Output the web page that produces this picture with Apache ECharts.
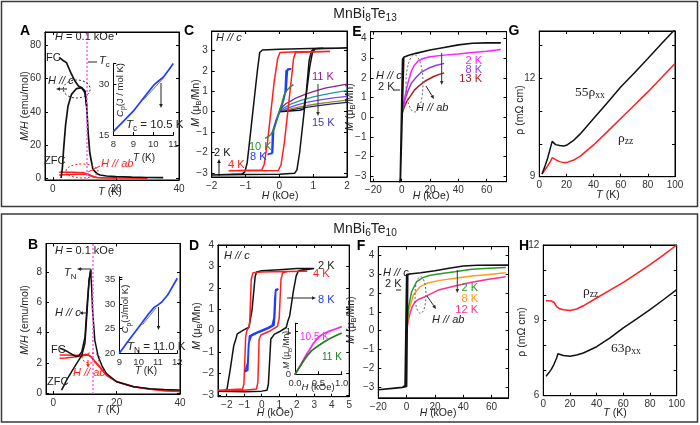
<!DOCTYPE html>
<html><head><meta charset="utf-8">
<script src="https://cdn.jsdelivr.net/npm/echarts@6/dist/echarts.min.js"></script>
<style>html,body{margin:0;padding:0;background:#fff}#c{width:700px;height:425px}</style>
</head><body><div id="c"></div>
<script>
// ================= DATA =================
// Panel A: MnBi8Te13 M/H vs T (H = 0.1 kOe)
const aFC = [[2,72.8],[3,71.2],[4.3,69.6],[5,66.5],[5.9,62.6],[7,58.5],[8.1,55.5],[9.1,54.5],[10.2,52.5],[10.7,43.5],[11.2,27],[11.7,15.4],[12.7,5.4],[14,2.8],[15,2],[17,1.4],[20,1],[25,0.7],[30,0.5],[35,0.4]];
const aZFC = [[2.6,0.2],[3,6],[3.4,17.4],[4,31.5],[4.8,43.5],[5.9,50.5],[7.5,54],[9.1,54.5],[10.2,51.5],[10.7,43.5]];
const aAbFC = [[2,3.6],[4,3.7],[6,3.6],[8,3.5],[10,3.3],[11,2.7],[12,1.7],[13,0.9],[14,0.5],[16,0.3],[20,0.2],[30,0.1]];
const aAbZFC = [[2,2.0],[4,2.2],[6,2.3],[8,2.4],[10,2.5],[11,2.3],[12,1.5],[13,0.8],[14,0.45],[16,0.3],[20,0.2]];
const aTc = 10.8;
const aCp = [[8,16],[8.5,19],[9,22],[9.5,25.8],[10,29.5],[10.2,30.6],[10.5,32],[10.75,34],[11,36]];
const aCpFit = [[9.5,25.3],[10.5,31.7]];
// Panel B: MnBi6Te10 M/H vs T
const bFC = [[2.1,2.96],[3,2.9],[4,2.8],[5,2.68],[6,2.56],[7.2,2.42],[8,2.45],[9,2.74],[10,3.7],[10.7,5.9],[11.3,7.5],[11.8,8.1],[12.1,7.0],[12.4,5.5],[13.1,3.5],[14.2,2.4],[15.5,1.75],[16.8,1.3],[20,0.76],[25.3,0.43],[30.5,0.3],[35,0.25],[40,0.22]];
const bZFC = [[2.6,0.2],[3.5,0.55],[4.2,0.87],[5.8,1.42],[7.4,1.97],[9,2.5],[10,3.3],[10.7,5.5],[11.3,7.4],[11.8,8.1]];
const bAbFC = [[2,2.52],[4,2.52],[6,2.5],[8,2.5],[10,2.55],[11,2.55],[12,2.4],[13,2.15],[14.7,1.75],[16.8,1.2],[20,0.77],[25.3,0.44],[30.5,0.28],[35,0.18],[40,0.12]];
const bAbZFC = [[2,2.3],[4,2.33],[6,2.38],[8,2.42],[10,2.5],[11,2.52],[12,2.38],[13,2.1],[14.7,1.7],[16.8,1.18],[20,0.75],[25.3,0.43],[30.5,0.27],[35,0.17],[40,0.11]];
const bTN = 12.5;
const bCp = [[9,20],[9.5,22.7],[10,25.3],[10.5,27.9],[10.8,29.3],[11,29.8],[11.2,30.4],[11.5,31.8],[12,35.2]];
const bCpFit = [[10.2,25.8],[10.9,29.2]];
// Panel C: MnBi8Te13 M(H), H // c, low field
const cT2 = [[2,3.12],[1.2,3.1],[0,3.06],[-0.5,3.02],[-0.58,2.9],[-0.65,2.0],[-0.75,0.5],[-0.85,-1.0],[-0.95,-2.5],[-1.02,-2.95],[-1.1,-3.05],[-2,-3.1],[-1,-3.08],[0,-3.06],[0.45,-3.02],[0.52,-2.85],[0.6,-2.0],[0.7,-0.5],[0.8,1.0],[0.88,2.5],[0.95,2.98],[1.05,3.08],[2,3.12]];
const cT2v = [[0,0],[0.3,0.03],[0.6,0.07],[0.72,0.12],[0.8,0.9],[0.9,2.2],[0.98,2.9],[1.06,3.08],[1.3,3.11]];
const cT4 = [[1.5,2.95],[0.5,2.93],[0.02,2.9],[-0.05,2.6],[-0.15,1.5],[-0.25,0],[-0.35,-1.5],[-0.45,-2.6],[-0.52,-2.86],[-1.5,-2.9],[-0.5,-2.9],[-0.03,-2.88],[0.05,-2.6],[0.15,-1.5],[0.25,0],[0.35,1.5],[0.42,2.6],[0.48,2.9],[1.5,2.95]];
const cT8 = [[-0.35,-2.1],[-0.22,-2.05],[-0.2,-1.0],[-0.1,-0.45],[0,0],[0.1,0.45],[0.17,0.9],[0.2,2.0],[0.22,2.08],[0.35,2.1],[0.24,2.08],[0.2,1.1],[0.12,0.55],[0.02,0.05],[-0.08,-0.4],[-0.17,-0.85],[-0.2,-2.02],[-0.35,-2.1]];
const cT10 = [[-0.42,-1.3],[-0.35,-1.25],[-0.25,-1.12],[-0.15,-0.85],[-0.08,-0.45],[0,0],[0.08,0.45],[0.15,0.85],[0.25,1.1],[0.35,1.25],[0.42,1.32]];
const cT11 = [[0,0],[0.1,0.25],[0.2,0.4],[0.37,0.55],[0.5,0.68],[0.76,0.85],[1,0.98],[1.35,1.15],[1.75,1.28],[2,1.35]];
const cT12 = [[0,0],[0.15,0.2],[0.35,0.38],[0.66,0.57],[1,0.72],[1.35,0.85],[1.75,0.97],[2,1.03]];
const cT13 = [[0,0],[0.2,0.15],[0.5,0.32],[0.8,0.45],[1.2,0.58],[1.6,0.68],[2,0.75]];
const cT14 = [[0,0],[0.3,0.12],[0.6,0.23],[1,0.35],[1.5,0.47],[2,0.56]];
const cT15 = [[0,0],[0.3,0.08],[0.6,0.16],[1,0.26],[1.5,0.37],[2,0.45]];
// Panel D: MnBi6Te10 M(H), H // c
const dT2 = [[3,2.9],[2,2.9],[1,2.85],[0,2.8],[-0.3,2.74],[-0.38,2.5],[-0.55,1.0],[-0.73,0.16],[-1.0,0.05],[-1.4,-0.15],[-1.5,-0.45],[-1.6,-0.7],[-1.8,-1.8],[-1.98,-2.7],[-2.1,-2.8],[-2.5,-2.83],[-1,-2.85],[0,-2.82],[0.3,-2.78],[0.38,-2.5],[0.52,-0.39],[0.73,-0.16],[1.0,-0.05],[1.4,0.15],[1.5,0.47],[1.6,0.7],[1.8,1.8],[1.97,2.56],[2.1,2.8],[3,2.9]];
const dT4 = [[2.6,2.78],[1.2,2.76],[0,2.74],[-0.5,2.7],[-0.6,2.4],[-0.68,0.5],[-0.72,0.2],[-0.85,0.0],[-0.92,-0.3],[-0.97,-1.5],[-1.02,-2.5],[-1.1,-2.72],[-2.5,-2.78],[-1,-2.78],[-0.3,-2.72],[-0.22,-2.4],[-0.15,-0.4],[-0.05,-0.2],[0.5,0.0],[0.9,0.2],[1.0,0.6],[1.1,2.4],[1.2,2.7],[1.5,2.76],[2.6,2.78]];
const dT8 = [[0.95,1.95],[0.8,1.92],[0.75,1.5],[0.7,0.6],[0.6,0.25],[0.3,0.12],[0,0.02],[-0.4,-0.12],[-0.7,-0.25],[-0.75,-0.8],[-0.8,-1.85],[-0.95,-1.92],[-0.85,-1.9],[-0.8,-1.5],[-0.75,-0.6],[-0.6,-0.25],[-0.3,-0.12],[0,-0.02],[0.4,0.12],[0.7,0.25],[0.75,0.8],[0.8,1.85],[0.95,1.95]];
const dIn105 = [[0,0],[0.1,0.18],[0.2,0.38],[0.25,0.48],[0.3,0.56],[0.39,0.72],[0.5,0.87],[0.62,0.96],[0.75,1.02],[0.88,1.07],[1,1.12]];
const dIn11 = [[0,0],[0.1,0.17],[0.2,0.34],[0.25,0.42],[0.35,0.55],[0.5,0.67],[0.62,0.76],[0.75,0.84],[0.88,0.91],[1,0.97]];
// Panel E: MnBi8Te13 M(H) high field
const eC2 = [[70,3.78],[60,3.78],[50,3.76],[40,3.68],[30,3.55],[20,3.42],[10,3.25],[5,3.15],[1.5,3.05],[0.3,3.0],[-0.8,-3.05],[-1.5,-3.4],[-1.0,-3.1],[0.6,2.95],[1.5,3.05]];
const eAb2 = [[0,0.2],[1,0.6],[2,0.95],[3.5,1.47],[5,1.9],[7,2.38],[9,2.65],[11.8,2.87],[15,2.99],[20,3.08],[30,3.16],[40,3.22],[50,3.29],[60,3.36],[70,3.44]];
const eAb8 = [[0,0.15],[1,0.5],[2,0.8],[3,1.05],[4.7,1.39],[7,1.75],[10.6,2.06],[14,2.3],[18.8,2.49],[24,2.63],[30,2.74]];
const eAb13 = [[0,0.1],[1,0.35],[2,0.55],[3.5,0.8],[5.9,1.05],[9,1.38],[12.9,1.64],[17,1.86],[22.3,2.06],[26,2.17],[30,2.26]];
// Panel F: MnBi6Te10 M(H) high field
const fC2 = [[72,3.47],[50,3.46],[40,3.42],[30,3.3],[20,3.17],[10,3.07],[2,3.0],[0,2.97],[-0.8,2.93],[-1.1,-2.9],[-3,-3.0],[-10,-3.05],[-20,-3.12],[-10,-3.06],[-3,-3.0],[0,-2.95],[0.5,-2.9],[0.8,2.95],[2,3.0]];
const fAb2 = [[0,0.05],[1.2,1.18],[3.5,2.06],[7.1,2.6],[11.8,2.82],[16,2.92],[22.4,3.0],[34,3.12],[46,3.25],[58,3.31],[70,3.35]];
const fAb8 = [[0,0.05],[1.7,1.1],[4.7,1.89],[9.4,2.33],[15,2.52],[22.4,2.65],[34,2.77],[46,2.89],[58,2.98],[70,3.07]];
const fAb12 = [[0,0],[1,0.45],[2.4,0.92],[4,1.28],[5.9,1.53],[9,1.68],[13,1.8],[22.4,2.15],[34,2.36],[46,2.56],[58,2.72],[70,2.86]];
// Panel G: MnBi8Te13 resistivity
const gRxx55 = [[2,9.08],[4,9.3],[6,9.55],[8,9.85],[9.5,10.08],[10.5,10.05],[12,9.98],[15,9.95],[18,9.94],[20,9.96],[25,10.1],[30,10.3],[40,10.78],[50,11.25],[60,11.74],[70,12.17],[80,12.61],[90,13.06],[100,13.5]];
const gRzz = [[2,9.08],[4,9.2],[6,9.32],[8,9.45],[9.5,9.58],[10.5,9.6],[12,9.52],[15,9.46],[18,9.43],[20,9.43],[25,9.5],[30,9.62],[40,9.97],[50,10.37],[60,10.78],[70,11.18],[80,11.59],[90,12.02],[100,12.46]];
// Panel H: MnBi6Te10 resistivity
const hRzz = [[2,9.78],[4,9.78],[6,9.77],[8,9.72],[9,9.68],[10,9.55],[12,9.47],[15,9.42],[20,9.39],[25,9.45],[30,9.58],[40,9.89],[50,10.2],[60,10.51],[70,10.86],[80,11.22],[90,11.6],[100,12.0]];
const hRxx63 = [[2,6.77],[4,6.9],[6,7.05],[8,7.25],[10,7.5],[11,7.67],[12,7.64],[15,7.6],[20,7.57],[25,7.62],[30,7.7],[40,7.95],[50,8.3],[60,8.7],[70,9.06],[80,9.43],[90,9.82],[100,10.22]];

// ================= BUILD =================
const F = '"Liberation Sans", Arial, Helvetica, sans-serif';
const FSR = '"Liberation Serif", "Times New Roman", serif';
const BLK='#111', RED='#ff1f1f', BLUE='#1f3cff', GRN='#2f8f2f', PUR='#8e1f8e', TEAL='#1f9a9a', VIO='#7b47ff', OLIVE='#8f8f1f', NAVY='#202080', MAG='#ff1fff', EVIO='#8a3cf0', DRED='#a41f1f', FGRN='#2a9a2a', ORNG='#ff9a20', PINK='#ff2f8f', DGRN='#1f7f1f';

const grids=[], xAxes=[], yAxes=[], series=[];
function lab(v,st,dec,only){
  const k=v/st; if(Math.abs(k-Math.round(k))>1e-6) return '';
  if(only && !only.some(o=>Math.abs(o-v)<1e-6)) return '';
  const r=Math.round(k)*st;
  let s = dec? r.toFixed(dec) : String(Math.round(r));
  return s.replace('-', '\u2212');
}
function mkAx(gi,r,pos,show,fs,dec,only){
  const mn=r[0], mx=r[1], st=r[2];
  return {type:'value', gridIndex:gi, position:pos, min:mn, max:mx, minInterval:st, maxInterval:st,
    axisLine:{show:true,onZero:false,lineStyle:{color:'#000',width:1}},
    axisTick:{show:true,inside:true,length:3,lineStyle:{color:'#000',width:1}},
    splitLine:{show:false},
    axisLabel:{show:show, fontSize:fs, color:'#333', fontFamily:F, margin:4, formatter:(v)=>lab(v,st,dec,only)}};
}
function panel(box,xr,yr,o){
  o=o||{};
  const gi=grids.length;
  grids.push({left:box[0], top:box[1], width:box[2], height:box[3], show:!o.inset, borderColor:'#000', borderWidth:1, backgroundColor:'transparent', containLabel:false});
  const xi=xAxes.length, yi=yAxes.length;
  const fs=o.inset?9.5:10;
  xAxes.push(mkAx(gi,xr,'bottom',true,fs,o.xdec,o.xonly));
  yAxes.push(mkAx(gi,yr,'left',true,fs,o.ydec,o.yonly));
  if(!o.inset){ xAxes.push(mkAx(gi,xr,'top',false,fs)); yAxes.push(mkAx(gi,yr,'right',false,fs)); }
  return {xi, yi};
}
function L(ax,data,color,w,extra){
  series.push(Object.assign({type:'line', xAxisIndex:ax.xi, yAxisIndex:ax.yi, data, showSymbol:false, symbol:'none',
    lineStyle:{color, width:w||1.5}, itemStyle:{color}, silent:true, animation:false}, extra||{}));
}
function vline(x){ return {markLine:{silent:true, symbol:['none','none'], label:{show:false}, lineStyle:{color:'#ff5cff', type:[2,2], width:1.5}, data:[{xAxis:x}], animation:false}}; }

const pA = panel([45,32,134,148],[-2.5,40,20],[-1,88,20]);
const pAi = panel([113.3,63.6,60,71.4],[8,11,1],[15,36,15],{inset:true});
const pB = panel([46,243.5,134,150.5],[-2.3,40,20],[-0.05,9.87,2]);
const pBi = panel([119.3,276.8,58,76.5],[9,12,1],[20,35.5,5],{inset:true});
const pC = panel([211.7,31,135.3,146],[-2,2,1],[-3.2,3.95,1]);
const pD = panel([218,245,131.2,151.7],[-2.5,5,1],[-3.08,4,1]);
const pDi = panel([295,323.2,46.7,51.1],[0,1,0.5],[0,1.2,1],{inset:true, xdec:1});
const pE = panel([370.5,31.7,136,150],[-22,74,20],[-3.27,4.35,1]);
const pF = panel([378.3,246.6,130.3,151.2],[-20,72,20],[-3.55,4.45,1]);
const pG = panel([539.3,31,135.7,145.7],[0,100,20],[9,13.45,1],{yonly:[9,12]});
const pH = panel([543.3,245,133.4,150.7],[0,100,20],[6,12,1],{yonly:[6,9,12]});

// A
L(pA,aAbZFC,RED,1.5); L(pA,aAbFC,RED,1.5,vline(aTc));
L(pA,aZFC,BLK,1.7); L(pA,aFC,BLK,1.7);
L(pAi,aCpFit,'#777',1); L(pAi,aCp,BLUE,1.7);
// B
L(pB,bAbZFC,RED,1.5); L(pB,bAbFC,RED,1.5,vline(bTN));
L(pB,bZFC,BLK,1.5); L(pB,bFC,BLK,1.5);
L(pBi,bCpFit,'#777',1); L(pBi,bCp,BLUE,1.7);
// C
L(pC,cT15,NAVY,1.3); L(pC,cT14,OLIVE,1.3); L(pC,cT13,VIO,1.3); L(pC,cT12,TEAL,1.3); L(pC,cT11,PUR,1.3);
L(pC,cT2v,BLK,1.5); L(pC,cT2,BLK,1.5); L(pC,cT4,RED,1.5); L(pC,cT8,BLUE,1.7); L(pC,cT10,GRN,1.5);
// D
L(pD,dT2,BLK,1.5); L(pD,dT4,RED,1.5); L(pD,dT8,BLUE,1.7);
L(pDi,dIn105,MAG,1.7); L(pDi,dIn11,DGRN,1.7);
// E
L(pE,eAb13,DRED,1.5); L(pE,eAb8,EVIO,1.5); L(pE,eAb2,MAG,1.5); L(pE,eC2,BLK,1.6);
// F
L(pF,fAb12,PINK,1.5); L(pF,fAb8,ORNG,1.5); L(pF,fAb2,FGRN,1.5); L(pF,fC2,BLK,1.6);
// G, H
L(pG,gRzz,RED,1.5); L(pG,gRxx55,BLK,1.5);
L(pH,hRzz,RED,1.5); L(pH,hRxx63,BLK,1.5);

// ================= ANNOTATIONS =================
function rich(fs,fam){ fam=fam||F; const sf=Math.round(fs*0.72*10)/10; return {
  n:{fontSize:fs,fontFamily:fam,lineHeight:fs+4},
  i:{fontSize:fs,fontFamily:fam,fontStyle:'italic',lineHeight:fs+4},
  s:{fontSize:sf,fontFamily:fam,lineHeight:sf,verticalAlign:'bottom'},
  b:{fontSize:fs,fontFamily:fam,fontWeight:'bold',lineHeight:fs+4}};}
function T(x,y,text,o){ o=o||{}; const fs=o.fs||11;
  return {type:'text', x, y, rotation:o.rot||0, z:100,
    style:{text, fill:o.color||'#222', align:o.align||'left', verticalAlign:'middle', fontSize:fs, fontFamily:o.fam||F, rich:rich(fs,o.fam)}}; }
function arrow(x1,y1,x2,y2,color,h){ color=color||'#222'; h=h||4; const a=Math.atan2(y2-y1,x2-x1);
  const bx=x2-h*Math.cos(a), by=y2-h*Math.sin(a), px=-Math.sin(a)*h*0.45, py=Math.cos(a)*h*0.45;
  return [{type:'line', z:100, shape:{x1,y1,x2:bx,y2:by}, style:{stroke:color,lineWidth:1}},
          {type:'polygon', z:100, shape:{points:[[x2,y2],[bx+px,by+py],[bx-px,by-py]]}, style:{fill:color}}]; }
function ell(cx,cy,rx,ry,color){ return {type:'ellipse', z:100, shape:{cx,cy,rx,ry}, style:{fill:'none', stroke:color||'#333', lineWidth:1, lineDash:[2,2]}}; }
function seg(x1,y1,x2,y2,color){ return {type:'line', z:100, shape:{x1,y1,x2,y2}, style:{stroke:color||'#222', lineWidth:1}}; }
const R90=Math.PI/2;
const Mname='{i|M}{n| (μ}{s|B}{n|/Mn)}', Hname='{i|H}{n| (kOe)}', Tname='{i|T}{n| (K)}', MHname='{i|M/H}{n| (emu/mol)}', Rname='{n|ρ (mΩ cm)}';
const G=[
  {type:'rect', z:90, shape:{x:1.5,y:1.5,width:696,height:205}, style:{fill:'none',stroke:'#3a3a3a',lineWidth:1.5}},
  {type:'rect', z:90, shape:{x:1.5,y:214,width:696,height:208}, style:{fill:'none',stroke:'#3a3a3a',lineWidth:1.5}},
  T(365,14,'{n|MnBi}{s|8}{n|Te}{s|13}',{fs:14,align:'center'}),
  T(365,229,'{n|MnBi}{s|6}{n|Te}{s|10}',{fs:14,align:'center'}),
  // panel letters
  T(25,31,'{b|A}',{fs:14,align:'center',color:'#000'}), T(189,31,'{b|C}',{fs:14,align:'center',color:'#000'}),
  T(357,32,'{b|E}',{fs:14,align:'center',color:'#000'}), T(514,31,'{b|G}',{fs:14,align:'center',color:'#000'}),
  T(33,245,'{b|B}',{fs:14,align:'center',color:'#000'}), T(194,246,'{b|D}',{fs:14,align:'center',color:'#000'}),
  T(361,246,'{b|F}',{fs:14,align:'center',color:'#000'}), T(524,246,'{b|H}',{fs:14,align:'center',color:'#000'}),
  // axis names
  T(25,106,MHname,{fs:10.5,rot:R90,align:'center'}), T(25,320,MHname,{fs:10.5,rot:R90,align:'center'}),
  T(196,103,Mname,{fs:10.5,rot:R90,align:'center'}), T(197,326,Mname,{fs:10.5,rot:R90,align:'center'}),
  T(350,107,Mname,{fs:10.5,rot:R90,align:'center'}), T(351,320,Mname,{fs:10.5,rot:R90,align:'center'}),
  T(520,110,Rname,{fs:10.5,rot:R90,align:'center'}), T(522,332,Rname,{fs:10.5,rot:R90,align:'center'}),
  T(110,192,Tname,{fs:10.5,align:'center'}), T(108,410,Tname,{fs:10.5,align:'center'}),
  T(280,196,Hname,{fs:10.5,align:'center'}), T(275,413,Hname,{fs:10.5,align:'center'}),
  T(431,196,Hname,{fs:10.5,align:'center'}), T(438,413,Hname,{fs:10.5,align:'center'}),
  T(608,195,Tname,{fs:10.5,align:'center'}), T(615,413,Tname,{fs:10.5,align:'center'}),
  // A
  T(55,37,'{i|H}{n| = 0.1 kOe}'), T(46,58,'{n|FC}'), T(48,81,'{i|H // c}'),
  ...arrow(67,89,56,89), ell(76.7,89,13.5,9,'#333'),
  T(44,161,'{n|ZFC}'), T(101,164,'{i|H // ab}',{color:RED}),
  ell(82,171,16,7,RED), seg(88,172,100,166,RED),
  T(99,61,'{i|T}{s|c}'), seg(88,62,97,62),
  T(126,125,'{i|T}{s|c}{n| = 10.5 K}',{fs:11.5}),
  T(120,90,'{i|C}{s|p}{n|(J / mol K)}',{fs:9.5,rot:R90,align:'center'}),
  T(144,158,Tname,{fs:10,align:'center'}),
  ...arrow(161,83,161,108),
  // B
  T(55,251,'{i|H}{n| = 0.1 kOe}'), T(64,273,'{i|T}{s|N}'),
  {type:'polyline', z:100, shape:{points:[[91,275],[91,269],[81,269]]}, style:{stroke:'#222',lineWidth:1,fill:'none'}},
  ...arrow(82,269,77,269),
  T(55,313,'{i|H // c}'), ...arrow(87,313,79,313),
  T(51,350,'{n|FC}'), T(47,382,'{n|ZFC}'), T(73,373,'{i|H // ab}',{color:RED}),
  ell(91,358,9,5,RED), ...arrow(88,360,88,368,RED),
  T(127,347,'{i|T}{s|N}{n| = 11.0 K}',{fs:11.5}),
  T(125.5,309,'{i|C}{s|p}{n|(J/mol K)}',{fs:9.5,rot:R90,align:'center'}),
  T(146,371,Tname,{fs:10,align:'center'}),
  ...arrow(158.5,307,158.5,330),
  // C
  T(216,38,'{i|H // c}'), T(312,77,'{n|11 K}',{color:PUR}), T(312,123,'{n|15 K}',{color:'#3c3caa'}),
  ...arrow(318,84,318,116,'#333'),
  T(249,147,'{n|10 K}',{color:GRN}), T(250,157,'{n|8 K}',{color:BLUE}),
  T(214,153,'{n|2 K}',{color:BLK}), T(228,165,'{n|4 K}',{color:RED}),
  ...arrow(219,176,219,159,BLK),
  // D
  T(224,256,'{i|H // c}'), T(318,266,'{n|2 K}'), T(313,274,'{n|4 K}',{color:RED}), T(318,300,'{n|8 K}',{color:BLUE}),
  ...arrow(287,298,316,298),
  T(300,337,'{n|10.5 K}',{color:MAG,fs:10}), T(322,357,'{n|11 K}',{color:DGRN,fs:10}),
  T(287,350,Mname,{fs:8.5,rot:R90,align:'center'}), T(318,387,Hname,{fs:9.5,align:'center'}),
  // E
  T(376,76,'{i|H // c}'), T(378,87,'{n|2 K}'), seg(393,90,400,90),
  T(482,61,'{n|2 K}',{color:MAG,align:'right'}), T(482,70,'{n|8 K}',{color:EVIO,align:'right'}), T(482,79,'{n|13 K}',{color:DRED,align:'right'}),
  ...arrow(441.7,53,441.7,85,'#333'),
  ell(414.5,83.5,8.5,28.5,'#666'), ...arrow(426,86,434,99),
  T(416,108,'{i|H // ab}'),
  // F
  T(383,273,'{i|H // c}'), T(385,284,'{n|2 K}'), seg(396,290,401,290),
  T(478,288,'{n|2 K}',{color:FGRN,align:'right'}), T(478,299,'{n|8 K}',{color:ORNG,align:'right'}), T(478,310,'{n|12 K}',{color:PINK,align:'right'}),
  ...arrow(457.3,270,457.3,293,'#333'),
  ell(420.5,295,5.5,18.3,'#666'), ...arrow(427,296,436,309),
  T(432,320,'{i|H // ab}'),
  // G, H
  T(575,92,'{n|55ρ}{s|xx}',{fam:FSR,fs:13.5}), T(618,138,'{n|ρ}{s|zz}',{fam:FSR,fs:13.5}),
  T(583,291,'{n|ρ}{s|zz}',{fam:FSR,fs:13.5}), T(611,348,'{n|63ρ}{s|xx}',{fam:FSR,fs:13.5})
];

const chart = echarts.init(document.getElementById('c'), null, {renderer:'canvas'});
chart.setOption({animation:false, backgroundColor:'#fff', grid:grids, xAxis:xAxes, yAxis:yAxes, series, graphic:{elements:G}});
</script></body></html>
